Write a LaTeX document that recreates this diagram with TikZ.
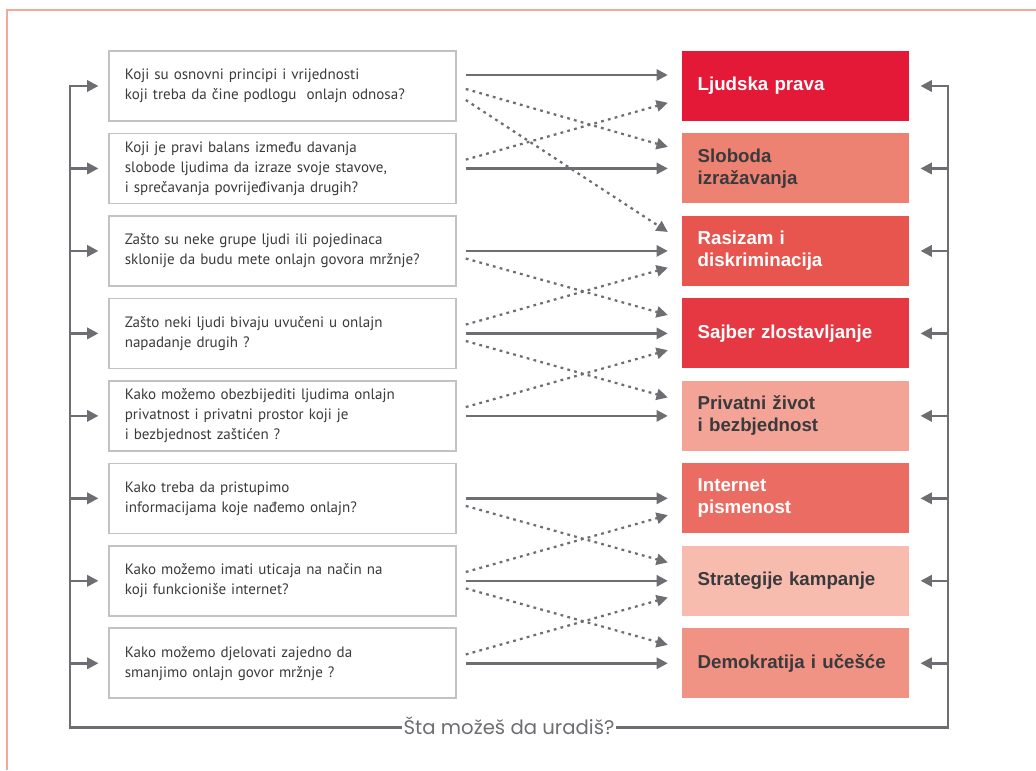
\documentclass[tikz,border=0pt]{standalone}
\usepackage{fontspec}
\usepackage{xcolor}
\usepackage{tikz}
\usetikzlibrary{arrows.meta,positioning}
\newfontfamily\qfont{PT Sans}
\newfontfamily\tfont{Liberation Sans}
\newfontfamily\capfont{Poppins}
\definecolor{linegray}{HTML}{6D6E71}
\definecolor{boxgray}{HTML}{C2C2C2}
\definecolor{textgray}{HTML}{3A3A3C}
\definecolor{framepink}{HTML}{F4A898}
\definecolor{ljudska}{HTML}{E31937}
\definecolor{sloboda}{HTML}{EE8272}
\definecolor{rasizam}{HTML}{E8554F}
\definecolor{sajber}{HTML}{E63843}
\definecolor{privatni}{HTML}{F3A497}
\definecolor{internet}{HTML}{EB6C62}
\definecolor{strategije}{HTML}{F7BCAE}
\definecolor{demokratija}{HTML}{F09284}

\begin{document}
\begin{tikzpicture}[
  question/.style={draw=boxgray, line width=1.1pt, minimum width=8.68cm, minimum height=1.75cm,
    text width=7.88cm, inner xsep=0.4cm, align=left, text=textgray,
    font=\qfont\fontsize{10.7}{14.2}\selectfont},
  topic/.style={minimum width=5.675cm, minimum height=1.75cm, text width=4.9cm, inner xsep=0.39cm,
    align=left, font=\tfont\bfseries\fontsize{13.3}{15.6}\selectfont},
  link/.style={draw=linegray, line width=1.8pt, -{Triangle[length=8pt,width=8pt]}},
  dotlink/.style={link, line width=1.6pt, dash pattern=on 2pt off 3pt},
]
\useasboundingbox (0,0) rectangle (25.9,19.25);
%%%%% Frame %%%%%
\draw[framepink, line width=1.1pt] (25.9,19) -- (0.175,19) -- (0.175,0);

%%%%% Questions %%%%%
\node[question] (q1) at (7.06,17.1) {Koji su osnovni principi i vrijednosti\\ koji treba da čine podlogu\ \ onlajn odnosa?};
\node[question, below=2.73mm of q1] (q2) {Koji je pravi balans između davanja\\ slobode ljudima da izraze svoje stavove,\\ i sprečavanja povrijeđivanja drugih?};
\node[question, below=2.73mm of q2] (q3) {Zašto su neke grupe ljudi ili pojedinaca\\ sklonije da budu mete onlajn govora mržnje?};
\node[question, below=2.73mm of q3] (q4) {Zašto neki ljudi bivaju uvučeni u onlajn\\ napadanje drugih ?};
\node[question, below=2.73mm of q4] (q5) {Kako možemo obezbijediti ljudima onlajn\\ privatnost i privatni prostor koji je\\ i bezbjednost zaštićen ?};
\node[question, below=2.73mm of q5] (q6) {Kako treba da pristupimo\\ informacijama koje nađemo onlajn?};
\node[question, below=2.73mm of q6] (q7) {Kako možemo imati uticaja na način na\\ koji funkcioniše internet?};
\node[question, below=2.73mm of q7] (q8) {Kako možemo djelovati zajedno da\\ smanjimo onlajn govor mržnje ?};

%%%%% Topics %%%%%
\node[topic, fill=ljudska, text=white, right=5.625cm of q1] (t1) {Ljudska prava};
\node[topic, fill=sloboda, text=textgray, right=5.625cm of q2] (t2) {Sloboda\\ izražavanja};
\node[topic, fill=rasizam, text=white, right=5.625cm of q3] (t3) {Rasizam i\\ diskriminacija};
\node[topic, fill=sajber, text=white, right=5.625cm of q4] (t4) {Sajber zlostavljanje};
\node[topic, fill=privatni, text=textgray, right=5.625cm of q5] (t5) {Privatni život\\ i bezbjednost};
\node[topic, fill=internet, text=white, right=5.625cm of q6] (t6) {Internet\\ pismenost};
\node[topic, fill=strategije, text=textgray, right=5.625cm of q7] (t7) {Strategije kampanje};
\node[topic, fill=demokratija, text=textgray, right=5.625cm of q8] (t8) {Demokratija i učešće};

%%%%% Links %%%%%
\draw[link] ([xshift=2.25mm,yshift=2.75mm]q1.east) -- ([xshift=-3.5mm,yshift=2.75mm]t1.west);
\foreach \i in {2,...,8}{
\draw[link] ([xshift=2.25mm]q\i.east) -- ([xshift=-3.5mm]t\i.west);
}
\draw[dotlink] ([xshift=2.25mm,yshift=-0.75mm]q1.east) -- ([xshift=-3.5mm,yshift=5.4mm]t2.west);
\draw[dotlink] ([xshift=2.25mm,yshift=-3.5mm]q1.east) -- ([xshift=-3.5mm,yshift=4.75mm]t3.west);
\foreach \a/\b in {3/4,4/5,6/7,7/8}{
\draw[dotlink] ([xshift=2.25mm,yshift=-1.9mm]q\a.east) -- ([xshift=-3.5mm,yshift=4.6mm]t\b.west);
}
\foreach \a/\b in {2/1,4/3,5/4,7/6,8/7}{
\draw[dotlink] ([xshift=2.25mm,yshift=2.2mm]q\a.east) -- ([xshift=-3.5mm,yshift=-4.2mm]t\b.west);
}

%%%%% Loop %%%%%
\coordinate (lt) at (1.75,17.1);
\coordinate (lb) at (1.75,1.0625);
\coordinate (rb) at (23.7,1.0625);
\coordinate (rt) at (23.7,17.1);
\draw[link, {Triangle[length=8pt,width=8pt]}-{Triangle[length=8pt,width=8pt]}]
  ([xshift=-2.4mm]q1.west) -- (lt) -- (lb)
  -- node[fill=white, inner xsep=1pt, inner ysep=1pt, yshift=1pt, text=linegray,
     font=\capfont\fontsize{14}{16}\selectfont] (cap) {Šta možeš da uradiš?} (rb)
  -- (rt) -- ([xshift=2.75mm]t1.east);
\foreach \i in {2,...,8}{
\draw[link] (lt |- q\i.west) -- ([xshift=-2.4mm]q\i.west);
\draw[link] (rt |- t\i.east) -- ([xshift=2.75mm]t\i.east);
}
\end{tikzpicture}
\end{document}
